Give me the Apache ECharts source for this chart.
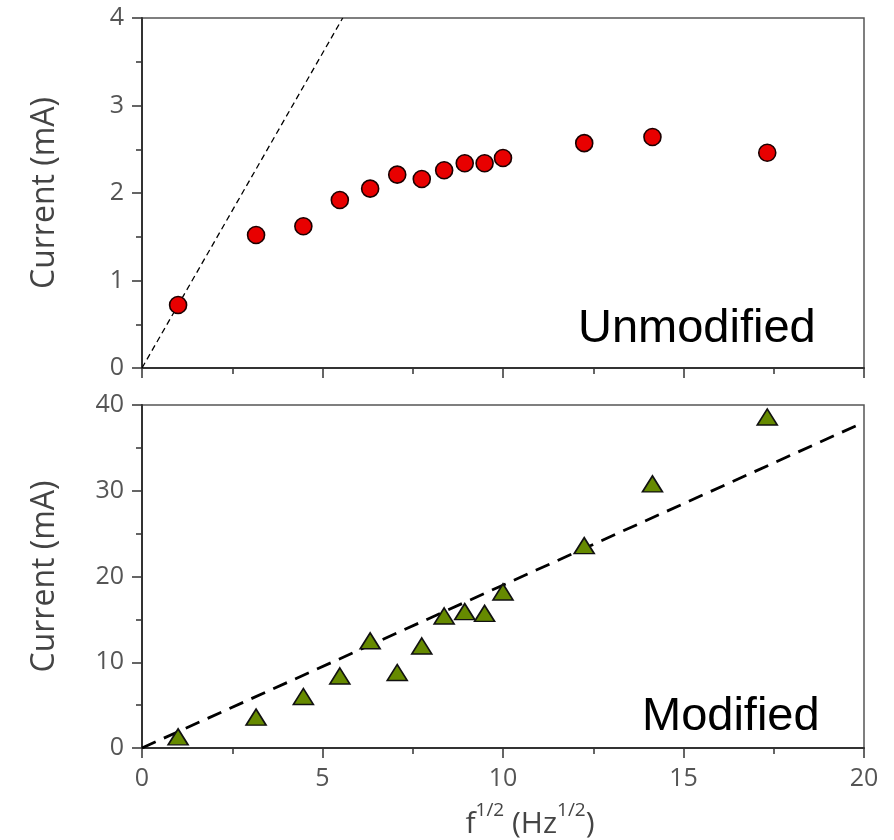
<!DOCTYPE html>
<html>
<head>
<meta charset="utf-8">
<script src="https://cdn.jsdelivr.net/npm/echarts@6/dist/echarts.min.js"></script>
<style>
  html, body { margin: 0; padding: 0; background: #fff; }
  #chart { width: 894px; height: 840px; }
</style>
</head>
<body>
<div id="chart"></div>
<script>
// Square root of the drive frequency, f^(1/2) in Hz^(1/2)
const sqrtFreq = [1, 3.16, 4.47, 5.48, 6.32, 7.07, 7.75, 8.37, 8.94, 9.49, 10, 12.25, 14.14, 17.32];

// Peak current (mA) for each electrode
const unmodifiedCurrent = [0.72, 1.52, 1.62, 1.92, 2.05, 2.21, 2.16, 2.26, 2.34, 2.34, 2.40, 2.57, 2.64, 2.46];
const modifiedCurrent = [1.3, 3.6, 6.0, 8.4, 12.5, 8.8, 11.9, 15.4, 15.9, 15.7, 18.2, 23.6, 30.8, 38.6];

// Linear reference lines through the origin
const unmodifiedFit = [[0, 0], [5.56, 4]];
const modifiedFit = [[0, 0], [19.9, 37.8]];

// Axis ranges and tick steps
const xRange = { min: 0, max: 20, interval: 5 };
const topYRange = { min: 0, max: 4, interval: 1 };
const bottomYRange = { min: 0, max: 40, interval: 10 };

const pairs = (xs, ys) => xs.map((x, i) => [x, ys[i]]);

const axisColor = '#333';
const labelColor = '#555';
const labelFont = '"Open Sans", "Noto Sans", sans-serif';

function valueAxis(gridIndex, range, extra) {
  return Object.assign({
    type: 'value',
    gridIndex: gridIndex,
    min: range.min,
    max: range.max,
    interval: range.interval,
    splitLine: { show: false },
    axisLine: { show: true, onZero: false, lineStyle: { color: axisColor, width: 2 } },
    axisTick: { show: true, inside: false, length: 10, lineStyle: { color: axisColor, width: 1.5 } },
    minorTick: { show: true, splitNumber: 2, length: 6, lineStyle: { color: axisColor, width: 1.5 } },
    minorSplitLine: { show: false },
    axisLabel: { color: labelColor, fontSize: 25, fontFamily: labelFont, margin: 18 }
  }, extra || {});
}

const yName = {
  name: 'Current (mA)',
  nameLocation: 'middle',
  nameRotate: 90,
  nameGap: 81,
  nameTextStyle: { color: '#444', fontSize: 32, fontFamily: labelFont }
};

const chart = echarts.init(document.getElementById('chart'), null, { renderer: 'canvas' });

chart.setOption({
  backgroundColor: '#fff',
  animation: false,
  grid: [
    { left: 142, right: 30, top: 18, height: 350, show: true, borderColor: '#555', borderWidth: 1.5, backgroundColor: 'transparent' },
    { left: 142, right: 30, top: 405, height: 345, show: true, borderColor: '#555', borderWidth: 1.5, backgroundColor: 'transparent' }
  ],
  xAxis: [
    valueAxis(0, xRange, { axisLabel: { show: false } }),
    valueAxis(1, xRange, {
      name: '{b|f}{s|1/2}{b| (Hz}{s|1/2}{b|)}',
      nameLocation: 'middle',
      nameGap: 53,
      nameTextStyle: {
        color: '#444',
        fontFamily: labelFont,
        padding: [0, 0, 0, 54],
        rich: {
          b: { fontSize: 30, fontFamily: labelFont, color: '#444', lineHeight: 38, verticalAlign: 'bottom' },
          s: { fontSize: 19, fontFamily: labelFont, color: '#444', lineHeight: 22, verticalAlign: 'top' }
        }
      }
    })
  ],
  yAxis: [
    valueAxis(0, topYRange, yName),
    valueAxis(1, bottomYRange, yName)
  ],
  graphic: [
    { type: 'text', left: 578, top: 306, style: { text: 'Unmodified', fontSize: 47, fontFamily: '"Liberation Sans", Arial, sans-serif', fill: '#000' } },
    { type: 'text', left: 642, top: 694, style: { text: 'Modified', fontSize: 47, fontFamily: '"Liberation Sans", Arial, sans-serif', fill: '#000' } }
  ],
  series: [
    {
      type: 'line',
      xAxisIndex: 0, yAxisIndex: 0,
      data: unmodifiedFit,
      symbol: 'none',
      lineStyle: { color: '#000', width: 1.3, type: [6, 4] },
      z: 1
    },
    {
      type: 'scatter',
      xAxisIndex: 0, yAxisIndex: 0,
      data: pairs(sqrtFreq, unmodifiedCurrent),
      symbol: 'circle',
      symbolSize: 17,
      itemStyle: { color: '#e80000', borderColor: '#1a0000', borderWidth: 1.6, opacity: 1 },
      z: 3
    },
    {
      type: 'line',
      xAxisIndex: 1, yAxisIndex: 1,
      data: modifiedFit,
      symbol: 'none',
      lineStyle: { color: '#000', width: 2.8, type: [15, 9] },
      z: 1
    },
    {
      type: 'scatter',
      xAxisIndex: 1, yAxisIndex: 1,
      data: pairs(sqrtFreq, modifiedCurrent),
      symbol: 'triangle',
      symbolSize: [20, 16],
      itemStyle: { color: '#668a00', borderColor: '#111', borderWidth: 1.6, opacity: 1 },
      z: 3
    }
  ]
});
</script>
</body>
</html>
